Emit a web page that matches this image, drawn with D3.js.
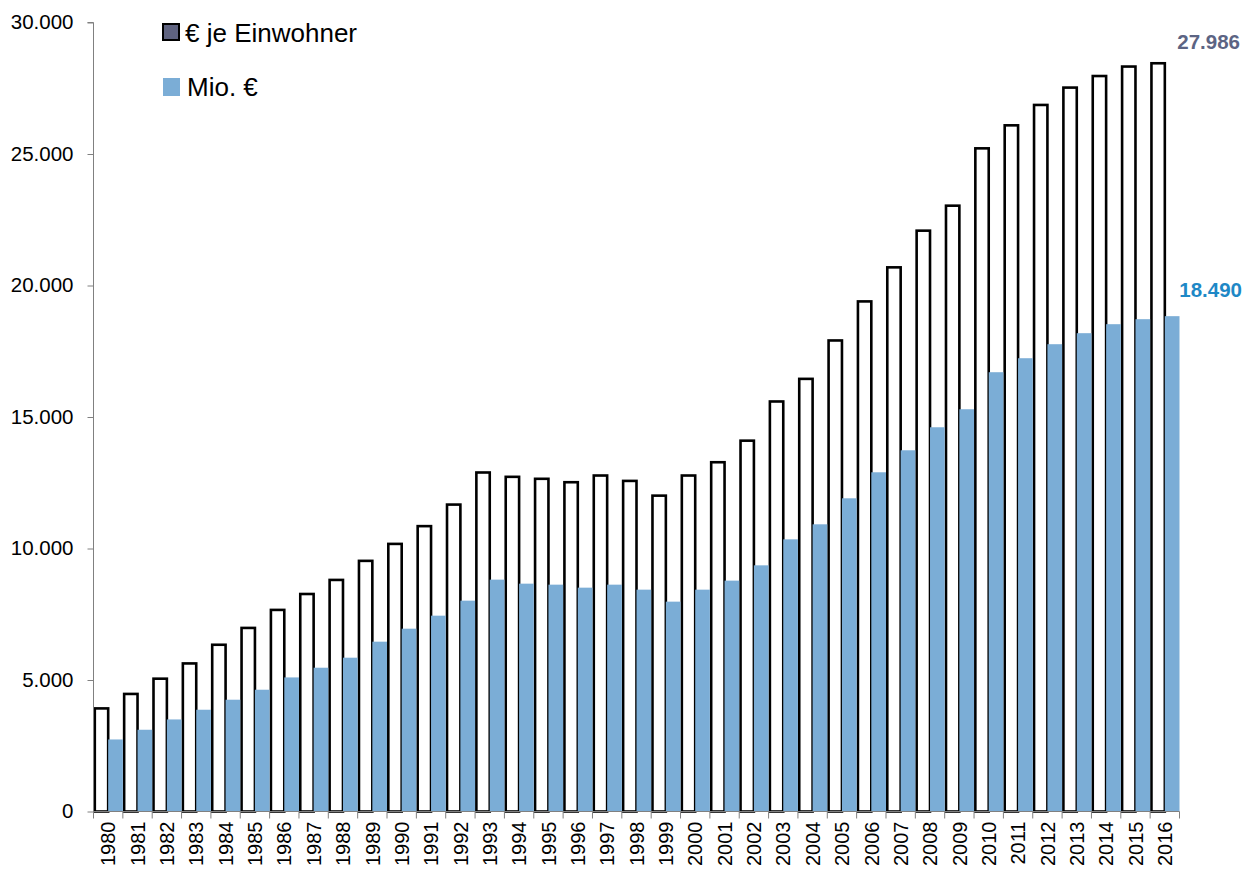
<!DOCTYPE html>
<html><head><meta charset="utf-8">
<script src="https://cdn.jsdelivr.net/npm/d3@7"></script>
<style>body{margin:0;background:#fff}svg{display:block}text{font-family:"Liberation Sans",Arial,sans-serif}</style>
</head><body>
<svg id="c" width="1251" height="872"></svg>
<script>
const years = ["1980","1981","1982","1983","1984","1985","1986","1987","1988","1989","1990","1991","1992","1993","1994","1995","1996","1997","1998","1999","2000","2001","2002","2003","2004","2005","2006","2007","2008","2009","2010","2011","2012","2013","2014","2015","2016"];
const euroPerCapita = [3920,4470,5050,5630,6340,6980,7665,8270,8805,9530,10175,10850,11670,12890,12725,12650,12520,12775,12570,12010,12775,13280,14100,15590,16450,17910,19395,20690,22085,23035,25215,26090,26865,27525,27965,28325,28450];
const mioEuro = [2739,3108,3500,3869,4250,4630,5098,5467,5848,6457,6951,7446,8017,8816,8663,8625,8511,8625,8435,7979,8435,8778,9360,10349,10920,11909,12898,13735,14610,15295,16703,17235,17768,18187,18529,18719,18834];
const yTicks = [0,5000,10000,15000,20000,25000,30000];
const legendLabels = ["€ je Einwohner","Mio. €"];
const endLabels = ["27.986","18.490"];

const svg = d3.select("#c");
const pL = 93.5, pR = 1179.5, pT = 22.5, pB = 811.5;
const x = d3.scaleBand().domain(years).range([pL, pR]).padding(0);
const y = d3.scaleLinear().domain([0,30000]).range([pB, pT]);
const bw = x.bandwidth();
const fmt = v => d3.format(",")(v).replace(/,/g,".");

// outlined bars
svg.append("g").selectAll("rect").data(years).join("rect")
  .attr("x", d => x(d) + 1.3)
  .attr("width", bw/2 - 1.3)
  .attr("y", (d,i) => y(euroPerCapita[i]))
  .attr("height", (d,i) => pB - y(euroPerCapita[i]))
  .attr("fill", "#fff").attr("stroke", "#000").attr("stroke-width", 2.6);

// blue bars
svg.append("g").selectAll("rect").data(years).join("rect")
  .attr("x", d => x(d) + bw/2)
  .attr("width", bw/2)
  .attr("y", (d,i) => y(mioEuro[i]))
  .attr("height", (d,i) => pB - y(mioEuro[i]))
  .attr("fill", "#7badd6");

// y axis
const ya = svg.append("g").attr("transform", `translate(${pL},0)`)
  .call(d3.axisLeft(y).tickValues(yTicks).tickSize(6).tickPadding(14).tickFormat(fmt));
ya.select(".domain").attr("stroke", "#808080").attr("d", `M-6,${pT}H0V${pB}`);
ya.selectAll(".tick line").attr("stroke", "#808080");
ya.selectAll(".tick text").attr("font-size", 20.5).attr("fill", "#000").attr("dy", "0.3em");

// x axis
const xa = svg.append("g").attr("transform", `translate(0,${pB})`)
  .call(d3.axisBottom(x).tickSize(0).tickPadding(0));
xa.select(".domain").attr("stroke", "#808080").attr("d", `M${pL},0H${pR}`);
xa.selectAll(".tick text")
  .attr("font-size", 20).attr("fill", "#000")
  .attr("transform", "rotate(-90)")
  .attr("text-anchor", "end")
  .attr("x", -10).attr("y", 0).attr("dy", "0.36em");
const bounds = years.map(d => x(d)).concat([pR]);
svg.append("g").selectAll("line").data(bounds).join("line")
  .attr("x1", d => d).attr("x2", d => d)
  .attr("y1", pB).attr("y2", pB + 7)
  .attr("stroke", "#808080");

// legend
svg.append("rect").attr("x", 163).attr("y", 24).attr("width", 16).attr("height", 16)
  .attr("fill", "#5f6380").attr("stroke", "#000").attr("stroke-width", 2);
svg.append("text").attr("x", 185).attr("y", 41.5).attr("font-size", 26).text(legendLabels[0]);
svg.append("rect").attr("x", 163).attr("y", 78).attr("width", 17).attr("height", 18).attr("fill", "#7badd6");
svg.append("text").attr("x", 187).attr("y", 95.5).attr("font-size", 26).text(legendLabels[1]);

// end labels
svg.append("text").attr("x", 1240).attr("y", 48.5).attr("text-anchor", "end")
  .attr("font-size", 20.5).attr("font-weight", "bold").attr("fill", "#5c6483").text(endLabels[0]);
svg.append("text").attr("x", 1242).attr("y", 297).attr("text-anchor", "end")
  .attr("font-size", 20.5).attr("font-weight", "bold").attr("fill", "#1e88c6").text(endLabels[1]);
</script>
</body></html>
